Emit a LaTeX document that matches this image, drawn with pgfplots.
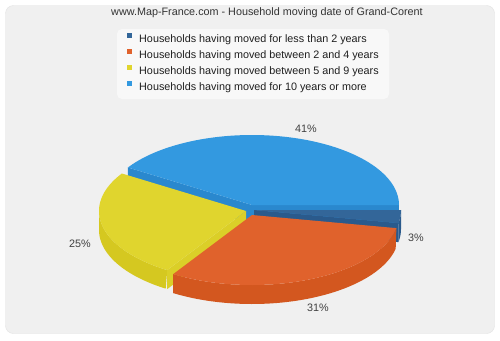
\documentclass[border=0pt]{standalone}
\usepackage{fontspec}
\setmainfont{Liberation Sans}
\usepackage{pgfplots}
\usepackage{pgfplotstable}
\pgfplotsset{compat=1.18}

\definecolor{cDB}{HTML}{336699}
\definecolor{cDBs}{HTML}{2A5A8C}
\definecolor{cOR}{HTML}{E0622C}
\definecolor{cORs}{HTML}{D3571F}
\definecolor{cYE}{HTML}{E0D52E}
\definecolor{cYEs}{HTML}{D5C820}
\definecolor{cYEf}{HTML}{DBCF28}
\definecolor{cBL}{HTML}{3399E0}
\definecolor{cBLs}{HTML}{2A88CE}
\definecolor{bgc}{HTML}{F0F0F0}
\definecolor{bord}{HTML}{E2E2E2}
\definecolor{legbg}{HTML}{F8F8F8}
\definecolor{txt}{HTML}{333333}
\definecolor{lab}{HTML}{404040}

\pgfplotstableread{
label pct
lt2 3
b24 31
b59 25
ge10 41
}\piedata

\def\ra{147}
\def\rb{70}
\def\hh{19}

% top of a slice: apex cx cy, angles t1 t2, colour
\newcommand\sector[5]{%
  \edef\tmp{\noexpand\addplot[forget plot, fill=#5, draw=none, domain=#3:#4, samples=90, variable=\noexpand\t]
    ({#1+\ra*cos(\noexpand\t)},{#2-\rb*sin(\noexpand\t)}) -- (axis cs:#1,#2) -- cycle;}\tmp}
% outer side of a slice between angles s1 s2 (front part)
\newcommand\side[5]{%
  \edef\tmp{\noexpand\addplot[forget plot, fill=#5, draw=none, domain=0:2, samples=161, variable=\noexpand\t]
    ({#1+\ra*cos(#3+(#4-#3)*min(\noexpand\t,2-\noexpand\t))},
     {#2-\rb*sin(#3+(#4-#3)*min(\noexpand\t,2-\noexpand\t))+\hh*(\noexpand\t>1)});}\tmp}
% radial cut face at angle th
\newcommand\face[4]{%
  \pgfmathsetmacro\fx{#1+\ra*cos(#3)}%
  \pgfmathsetmacro\fy{#2-\rb*sin(#3)}%
  \pgfmathsetmacro\fyh{\fy+\hh}%
  \pgfmathsetmacro\cyh{#2+\hh}%
  \edef\tmp{\noexpand\addplot[forget plot, fill=#4, draw=none] coordinates {(#1,#2) (\fx,\fy) (\fx,\fyh) (#1,\cyh)} -- cycle;}\tmp}

\begin{document}
\pgfplotstablegetelem{0}{pct}\of\piedata \let\pA\pgfplotsretval
\pgfplotstablegetelem{1}{pct}\of\piedata \let\pB\pgfplotsretval
\pgfplotstablegetelem{2}{pct}\of\piedata \let\pC\pgfplotsretval
\pgfplotstablegetelem{3}{pct}\of\piedata \let\pD\pgfplotsretval
\pgfmathsetmacro\aA{360-3.6*\pA}% dark blue: aA..360
\pgfmathsetmacro\aB{\aA-3.6*\pB}% orange: aB..aA
\pgfmathsetmacro\aC{\aB-3.6*\pC}% yellow: aC..aB ; blue: 0..aC
\begin{tikzpicture}
\begin{axis}[
  at={(0,0)}, anchor=south west,
  scale only axis, width=500pt, height=340pt,
  xmin=0, xmax=500, ymin=0, ymax=340, y dir=reverse,
  hide axis, clip=false,
  legend image code/.code={\fill[#1, draw=none] (0pt,1.3pt) rectangle (5pt,6.3pt);},
  legend cell align=left,
  legend style={at={(axis cs:127,31)}, anchor=north west,
    fill=none, draw=none, inner sep=0pt, row sep=0pt, column sep=0pt,
    font=\fontsize{10.8}{12}\selectfont, text=black!88,
    nodes={inner xsep=0pt, inner ysep=0pt, text height=11.7pt, text depth=4.3pt},
    /tikz/every odd column/.append style={column sep=7pt}},
]
\fill[white] (axis cs:0,0) rectangle (axis cs:500,340);
\draw[fill=bgc, draw=bord, rounded corners=8pt] (axis cs:5.5,5.5) rectangle (axis cs:494.5,333.5);
\fill[black!6, rounded corners=5pt] (axis cs:118,30) rectangle (axis cs:390,100);
\fill[legbg, rounded corners=5pt] (axis cs:117,29) rectangle (axis cs:389,99);
\node[text=txt, font=\fontsize{10.8}{12}\selectfont] at (axis cs:267,13) {www.Map-France.com - Household moving date of Grand-Corent};

\addlegendimage{fill=cDB, draw=none}
\addlegendentry{Households having moved for less than 2 years}
\addlegendimage{fill=cOR, draw=none}
\addlegendentry{Households having moved between 2 and 4 years}
\addlegendimage{fill=cYE, draw=none}
\addlegendentry{Households having moved between 5 and 9 years}
\addlegendimage{fill=cBL, draw=none}
\addlegendentry{Households having moved for 10 years or more}

% blue (back)
\face{252}{205}{0}{cBLs}
\face{252}{205}{\aC}{cBLs}
\sector{252}{205}{0}{\aC}{cBL}
% yellow (exploded)
\side{246}{211}{180}{\aB}{cYEs}
\face{246}{211}{\aB}{cYEf}
\sector{246}{211}{\aC}{\aB}{cYE}
% dark blue
\side{254}{210}{\aA}{360}{cDBs}
\face{254}{210}{\aA}{cDBs}
\sector{254}{210}{\aA}{360}{cDB}
% orange (front)
\side{252}{215}{\aB}{\aA}{cORs}
\sector{252}{215}{\aB}{\aA}{cOR}

\node[text=lab, font=\fontsize{10.8}{12}\selectfont] at (axis cs:306,128.5) {41\%};
\node[text=lab, font=\fontsize{10.8}{12}\selectfont] at (axis cs:416,238) {3\%};
\node[text=lab, font=\fontsize{10.8}{12}\selectfont] at (axis cs:318,308) {31\%};
\node[text=lab, font=\fontsize{10.8}{12}\selectfont] at (axis cs:80,244) {25\%};
\end{axis}
\pgfresetboundingbox
\path (0,0) rectangle (500pt,340pt);
\end{tikzpicture}
\end{document}
